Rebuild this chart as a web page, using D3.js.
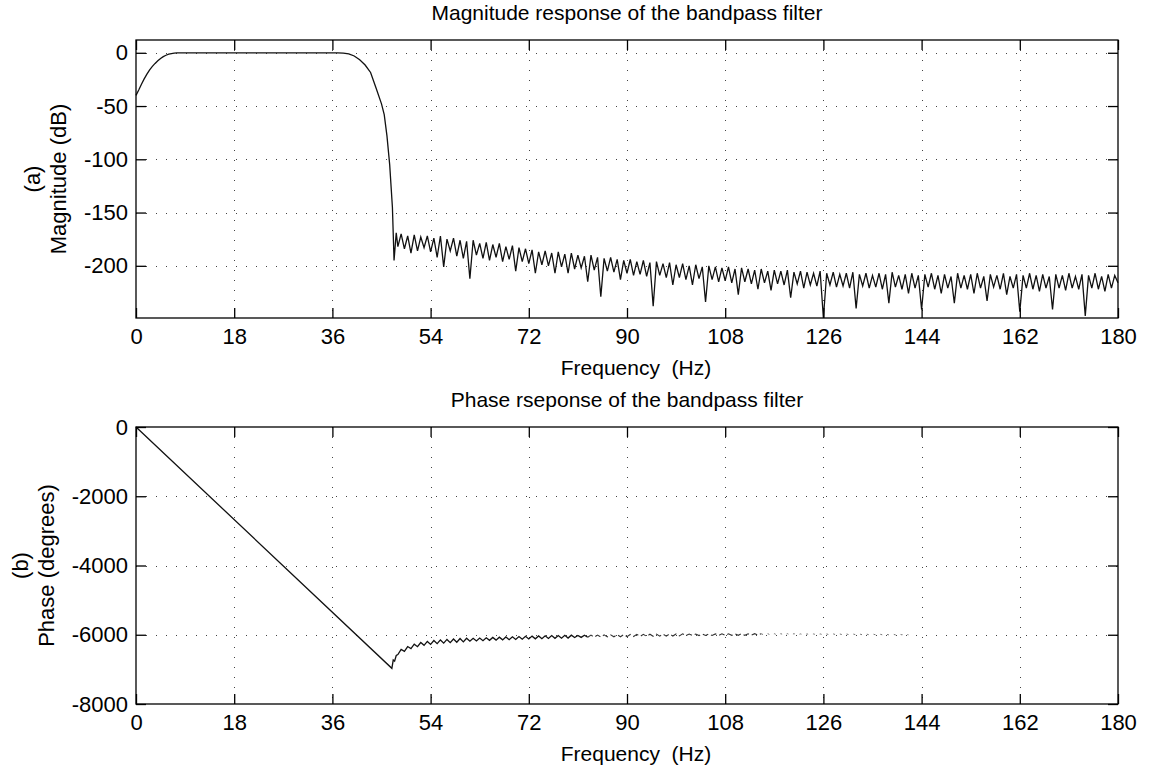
<!DOCTYPE html>
<html><head><meta charset="utf-8">
<script src="https://cdn.jsdelivr.net/npm/d3@7"></script>
<style>
body{margin:0;background:#fff}
text{font-family:"Liberation Sans",Arial,sans-serif;fill:#000}
</style>
</head><body>
<svg id="c" width="1150" height="772"></svg>
<script>
// ---------- data ----------
const freqTicks = [0, 18, 36, 54, 72, 90, 108, 126, 144, 162, 180];
const magTicks = [0, -50, -100, -150, -200];
const phaseTicks = [0, -2000, -4000, -6000, -8000];

// passband + transition (Hz, dB)
const magPassFreq = [0, 0.5, 1, 1.5, 2, 2.5, 3, 3.5, 4, 4.5, 5, 5.5, 6, 6.5, 7, 7.5, 8, 36, 37, 38, 39, 40, 41, 42, 43, 44, 45, 45.5, 46, 46.5, 47, 47.3, 47.7];
const magPassDb = [-40, -35, -29.5, -24.5, -20, -16, -12.8, -10, -7.5, -5.3, -3.6, -2.3, -1.3, -0.7, -0.3, -0.1, 0, 0, -0.1, -0.3, -1, -3, -6.5, -11.5, -18.5, -33, -48, -58, -78, -105, -145, -195, -169];

// stopband lobes: troughs at 48 + 1.2k Hz, peaks halfway between
const lobeStart = 48, lobeStep = 1.2;
const magTroughDb = [
 -182,-184,-188,-186,-183,-187,-192,-201,-186,-191,
 -193,-212,-190,-193,-195,-192,-196,-194,-205,-196,
 -198,-207,-199,-200,-207,-201,-207,-203,-202,-215,
 -204,-229,-205,-206,-213,-207,-209,-208,-210,-238,
 -209,-211,-218,-211,-213,-218,-212,-234,-213,-215,
 -214,-216,-227,-215,-217,-222,-216,-223,-217,-218,
 -230,-217,-221,-218,-219,-249,-218,-220,-219,-221,
 -240,-219,-221,-220,-222,-235,-220,-222,-226,-221,
 -241,-220,-222,-226,-221,-235,-221,-222,-226,-221,
 -233,-220,-222,-227,-221,-243,-221,-222,-224,-221,
 -241,-221,-223,-221,-222,-247,-221,-222,-224,-221,
 -216];
const magPeakDb = [
 -170,-172,-171,-173,-172,-174,-172,-175,-174,-176,
 -177,-176,-179,-178,-180,-179,-182,-181,-183,-184,
 -185,-187,-186,-188,-187,-189,-188,-190,-191,-190,
 -192,-193,-192,-194,-195,-194,-196,-195,-197,-196,
 -198,-197,-199,-198,-200,-199,-201,-200,-201,-202,
 -201,-203,-202,-203,-204,-203,-205,-204,-205,-204,
 -206,-205,-206,-207,-205,-207,-206,-208,-207,-206,
 -208,-207,-209,-207,-208,-206,-209,-208,-207,-209,
 -208,-207,-209,-208,-210,-207,-209,-208,-207,-210,
 -208,-209,-207,-210,-208,-209,-207,-209,-208,-210,
 -208,-209,-207,-210,-208,-209,-207,-210,-208,-209];

// phase (Hz, degrees)
const phasePassFreq = [0, 46.9, 47.15, 47.4, 47.7];
const phasePassDeg = [0, -6970, -6730, -6760, -6600];
const phaseLoDeg = [
 -6570,-6480,-6400,-6345,-6305,-6278,-6258,-6242,-6228,-6216,-6205,
 -6186,-6178,-6170,-6162,-6155,-6148,-6141,-6135,-6129,-6123,-6118,-6113,-6108,-6103,-6099,-6095,
 -6081,-6077,-6073,-6070,-6066,-6063,-6060,-6057,-6054,-6051,-6048,-6046,-6043,-6041,-6039,-6037,-6035,
 -6026,-6024,-6023,-6022,-6020,-6019,-6018,-6017,-6016,-6015,-6014,-6014,-6013,-6013,-6012,-6012,-6012,
 -6004,-6005,-6004,-6003,-6004,-6004,-6003,-6004,-6003,-6003,-6004,-6003,-6003,-6002,-6003,-6003,-6002,-6002];
const phaseHiDeg = [
 -6425,-6340,-6272,-6225,-6192,-6168,-6150,-6135,-6122,-6110,-6100,
 -6102,-6094,-6086,-6078,-6071,-6064,-6058,-6052,-6046,-6040,-6035,-6030,-6025,-6021,-6017,-6013,
 -6019,-6015,-6011,-6008,-6004,-6001,-5998,-5995,-5992,-5990,-5987,-5985,-5982,-5980,-5978,-5976,-5974,
 -5979,-5979,-5978,-5976,-5975,-5974,-5973,-5972,-5971,-5971,-5970,-5970,-5969,-5969,-5968,-5968,-5968,
 -5976,-5976,-5977,-5976,-5977,-5976,-5977,-5976,-5977,-5977,-5976,-5977,-5977,-5978,-5977,-5977,-5978];

// ---------- build series ----------
const magPts = magPassFreq.map((f, i) => [f, magPassDb[i]]);
magTroughDb.forEach((v, k) => {
  magPts.push([lobeStart + lobeStep * k, v]);
  if (k < magPeakDb.length) magPts.push([lobeStart + lobeStep * k + lobeStep / 2, magPeakDb[k]]);
});
const phasePts = phasePassFreq.map((f, i) => [f, phasePassDeg[i]]);
phaseLoDeg.forEach((v, k) => {
  phasePts.push([lobeStart + lobeStep * k, v]);
  if (k < phaseHiDeg.length) phasePts.push([lobeStart + lobeStep * k + lobeStep / 2, phaseHiDeg[k]]);
});

// ---------- drawing ----------
const svg = d3.select("#c");
const L = 136, R = 1118;
const panels = [
  {top: 40, bottom: 318, domain: [-249, 12], ticks: magTicks, pts: magPts, labX: [40, 66],
   title: "Magnitude response of the bandpass filter", lab1: "(a)", lab2: "Magnitude (dB)"},
  {top: 427, bottom: 704, domain: [-8000, 0], ticks: phaseTicks, pts: phasePts, labX: [28, 54],
   title: "Phase rseponse of the bandpass filter", lab1: "(b)", lab2: "Phase (degrees)"}
];
const fmt = d => String(d);

panels.forEach((p, pi) => {
  const x = d3.scaleLinear([0, 180], [L, R]);
  const y = d3.scaleLinear(p.domain, [p.bottom, p.top]);
  const g = svg.append("g");

  // grid
  const grid = g.append("g").attr("stroke", "#444").attr("stroke-width", 1)
    .attr("stroke-dasharray", "1,9").attr("shape-rendering", "crispEdges");
  freqTicks.filter(t => t > 0 && t < 180).forEach(t => {
    grid.append("line").attr("x1", Math.round(x(t)) + 0.5).attr("x2", Math.round(x(t)) + 0.5)
      .attr("y1", p.top).attr("y2", p.bottom);
  });
  p.ticks.filter(t => y(t) > p.top + 1 && y(t) < p.bottom - 1).forEach(t => {
    grid.append("line").attr("y1", Math.round(y(t)) + 0.5).attr("y2", Math.round(y(t)) + 0.5)
      .attr("x1", L).attr("x2", R);
  });

  // data line
  const line = d3.line().x(d => x(d[0])).y(d => y(d[1]));
  if (pi === 0) {
    g.append("path").datum(p.pts).attr("d", line).attr("fill", "none")
      .attr("stroke", "#111").attr("stroke-width", 1.3).attr("stroke-linejoin", "miter");
  } else {
    const seg1 = p.pts.filter(d => d[0] <= 82.8);
    const seg2 = p.pts.filter(d => d[0] >= 82.8 && d[0] <= 114.6);
    const seg3 = p.pts.filter(d => d[0] >= 114.6);
    g.append("path").datum(seg1).attr("d", line).attr("fill", "none")
      .attr("stroke", "#111").attr("stroke-width", 1.3);
    g.append("path").datum(seg2).attr("d", line).attr("fill", "none")
      .attr("stroke", "#333").attr("stroke-width", 1.1).attr("stroke-dasharray", "6,3");
    g.append("path").datum(seg3).attr("d", line).attr("fill", "none")
      .attr("stroke", "#777").attr("stroke-width", 1).attr("stroke-dasharray", "2,5");
  }

  // axes
  const fs = "22px";
  const ab = g.append("g").attr("transform", `translate(0,${p.bottom})`)
    .call(d3.axisBottom(x).tickValues(freqTicks).tickSizeInner(-10).tickSizeOuter(0).tickPadding(10).tickFormat(fmt));
  const at = g.append("g").attr("transform", `translate(0,${p.top})`)
    .call(d3.axisTop(x).tickValues(freqTicks).tickSizeInner(-10).tickSizeOuter(0).tickFormat(""));
  const al = g.append("g").attr("transform", `translate(${L},0)`)
    .call(d3.axisLeft(y).tickValues(p.ticks).tickSizeInner(-10).tickSizeOuter(0).tickPadding(8).tickFormat(fmt));
  const ar = g.append("g").attr("transform", `translate(${R},0)`)
    .call(d3.axisRight(y).tickValues(p.ticks).tickSizeInner(-10).tickSizeOuter(0).tickFormat(""));
  [ab, at, al, ar].forEach(a => {
    a.select(".domain").remove();
    a.selectAll(".tick line").attr("stroke", "#000").attr("stroke-width", 1.3);
    a.selectAll("text").style("font-size", fs).attr("fill", "#000")
      .style("font-family", '"Liberation Sans",Arial,sans-serif');
  });
  g.append("rect").attr("x", L).attr("y", p.top).attr("width", R - L).attr("height", p.bottom - p.top)
    .attr("fill", "none").attr("stroke", "#000").attr("stroke-width", 1.3);

  // labels
  g.append("text").attr("x", (L + R) / 2).attr("y", p.top - 20).attr("text-anchor", "middle")
    .style("font-size", "21px").text(p.title);
  g.append("text").attr("x", (L + R) / 2 + 9).attr("y", p.bottom + 57).attr("text-anchor", "middle")
    .style("font-size", "21px").attr("xml:space", "preserve").style("white-space", "pre").text("Frequency  (Hz)");
  const cy = (p.top + p.bottom) / 2;
  g.append("text").attr("transform", `translate(${p.labX[0]},${cy}) rotate(-90)`).attr("text-anchor", "middle")
    .style("font-size", "22px").text(p.lab1);
  g.append("text").attr("transform", `translate(${p.labX[1]},${cy}) rotate(-90)`).attr("text-anchor", "middle")
    .style("font-size", "22px").text(p.lab2);
});
</script>
</body></html>
